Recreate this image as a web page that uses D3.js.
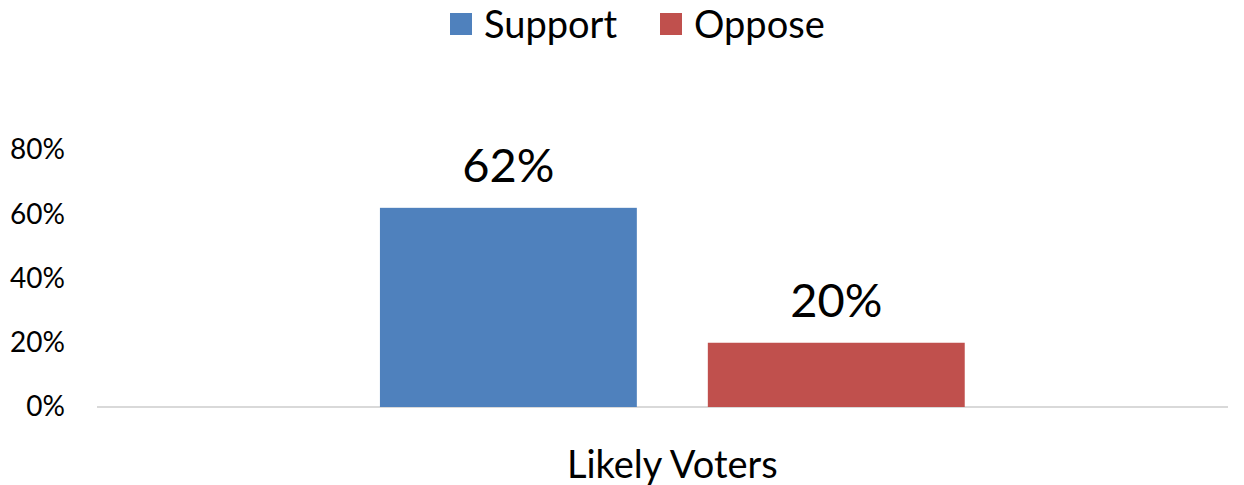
<!DOCTYPE html>
<html>
<head>
<meta charset="utf-8">
<script src="https://cdn.jsdelivr.net/npm/d3@7"></script>
<style>
  body { margin: 0; background: #fff; }
  svg { display: block; font-family: Lato, "Noto Sans", sans-serif; }
</style>
</head>
<body>
<svg></svg>
<script>
var categories = ["Likely Voters"];
var series = ["Support", "Oppose"];
var support = [0.62];
var oppose = [0.20];
var yTicks = [0, 0.2, 0.4, 0.6, 0.8];
var colors = ["#4F81BD", "#C0504D"];

var svgWidth = 1244, svgHeight = 485;
var svg = d3.select("svg").attr("width", svgWidth).attr("height", svgHeight);

var values = [support, oppose];

var y = d3.scaleLinear().domain([0, 0.8]).range([407, 150]);

var x0 = d3.scaleBand().domain(categories).range([97, 1228])
            .paddingInner(0).paddingOuter(0.467).align(0.518);
var x1 = d3.scaleBand().domain(series).range([0, x0.bandwidth()]).paddingInner(0.2165);

// y axis labels only, no line
var yAxis = d3.axisLeft(y).tickValues(yTicks).tickFormat(d3.format(".0%")).tickSize(0).tickPadding(0);
var ya = svg.append("g").attr("transform", "translate(65,0)").call(yAxis);
ya.select(".domain").remove();
ya.selectAll("text").attr("font-size", 28).attr("fill", "#000").attr("font-family", "Lato, sans-serif");

// baseline
svg.append("line")
    .attr("x1", x0.range()[0]).attr("x2", x0.range()[1])
    .attr("y1", y(0)).attr("y2", y(0))
    .attr("stroke", "#D9D9D9").attr("stroke-width", 2);

// bars
var groups = svg.selectAll("g.cat")
    .data(categories)
    .enter()
    .append("g")
    .attr("class", "cat")
    .attr("transform", function(d){ return "translate(" + x0(d) + ",0)"; });

groups.each(function(c, ci){
    var g = d3.select(this);
    series.forEach(function(s, si){
        var v = values[si][ci];
        g.append("rect")
            .attr("x", x1(s))
            .attr("y", y(v))
            .attr("width", x1.bandwidth())
            .attr("height", y(0) - y(v))
            .attr("fill", colors[si]);
        g.append("text")
            .attr("x", x1(s) + x1.bandwidth() / 2)
            .attr("y", y(v) - 26)
            .attr("text-anchor", "middle")
            .attr("font-size", 47)
            .text(d3.format(".0%")(v));
    });
});

// category label
svg.selectAll("text.cat")
    .data(categories)
    .enter()
    .append("text")
    .attr("class", "cat")
    .attr("x", function(d){ return x0(d) + x0.bandwidth() / 2; })
    .attr("y", 478)
    .attr("text-anchor", "middle")
    .attr("font-size", 38)
    .text(function(d){ return d; });

// legend
var legendX = [450, 660];
var legend = svg.selectAll("g.legend")
    .data(series)
    .enter()
    .append("g")
    .attr("class", "legend")
    .attr("transform", function(d, i){ return "translate(" + legendX[i] + ",13)"; });
legend.append("rect").attr("width", 22).attr("height", 22)
    .attr("fill", function(d, i){ return colors[i]; });
legend.append("text").attr("x", 34).attr("y", 25).attr("font-size", 38)
    .text(function(d){ return d; });
</script>
</body>
</html>
